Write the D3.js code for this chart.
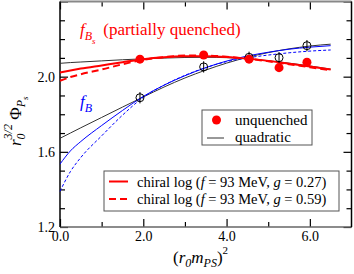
<!DOCTYPE html>
<html>
<head>
<meta charset="utf-8">
<script src="https://cdn.jsdelivr.net/npm/d3@7"></script>
<style>
  body { margin: 0; background: #fff; }
  svg text { font-family: "Liberation Serif", "DejaVu Serif", serif; }
  .tick text { font-size: 14px; fill: #000; }
</style>
</head>
<body>
<svg width="354" height="274"></svg>
<script>
// measured points, x = (r0 mPS)^2
const pointX = [1.92, 3.45, 4.54, 5.26, 5.93];
const fBsUnquenched = [2.093, 2.115, 2.093, 2.048, 2.077];
const fBPartial = [1.888, 2.052, 2.103, 2.101, 2.165];
const fBErr = [0.03, 0.03, 0.03, 0.03, 0.03];

// fit curves
const curveX    = [0, 0.25, 0.5, 1, 1.5, 2, 2.5, 3, 3.5, 4, 4.5, 5, 5.5, 6, 6.5];
const fBsLog027 = [2.022, 2.033, 2.043, 2.060, 2.077, 2.093, 2.103, 2.108, 2.109, 2.105, 2.096, 2.084, 2.069, 2.054, 2.038];
const fBsLog059 = [1.978, 1.998, 2.013, 2.038, 2.066, 2.090, 2.104, 2.112, 2.112, 2.106, 2.096, 2.082, 2.066, 2.050, 2.034];
const fBsQuad   = [2.071, 2.075, 2.078, 2.084, 2.090, 2.095, 2.099, 2.102, 2.103, 2.101, 2.095, 2.085, 2.072, 2.057, 2.040];
const fBLog027  = [1.535, 1.605, 1.655, 1.740, 1.820, 1.895, 1.955, 2.005, 2.048, 2.083, 2.110, 2.130, 2.146, 2.157, 2.165];
const fBLog059  = [1.390, 1.495, 1.570, 1.685, 1.795, 1.890, 1.955, 2.007, 2.048, 2.080, 2.100, 2.115, 2.127, 2.136, 2.142];
const fBQuad    = [1.672, 1.700, 1.728, 1.783, 1.838, 1.892, 1.945, 1.993, 2.035, 2.072, 2.103, 2.128, 2.148, 2.163, 2.173];

const xMajor = [0, 2, 4, 6];
const xMinor = [1, 3, 5];
const yMajor = [1.2, 1.6, 2.0, 2.4];
const yLabelled = [1.2, 1.6, 2.0];
const yMinor = [1.3, 1.4, 1.5, 1.7, 1.8, 1.9, 2.1, 2.2, 2.3];

const svg = d3.select('svg');
const plotL = 60, plotR = 351.5, plotT = 1.5, plotB = 227;

const x = d3.scaleLinear().domain([0, 7]).range([plotL, plotR]);
const y = d3.scaleLinear().domain([1.2, 2.4]).range([plotB, plotT]);

// ticks, all pointing inward
const axisGroup = svg.append('g');
axisGroup.append('g').attr('transform', `translate(0,${plotB})`)
    .call(d3.axisBottom(x).tickValues(xMajor).tickSize(-8).tickPadding(4).tickFormat(d3.format('.1f')));
axisGroup.append('g').attr('transform', `translate(0,${plotB})`)
    .call(d3.axisBottom(x).tickValues(xMinor).tickSize(-5).tickFormat(''));
axisGroup.append('g').attr('transform', `translate(0,${plotT})`)
    .call(d3.axisTop(x).tickValues(xMajor).tickSize(-8).tickFormat(''));
axisGroup.append('g').attr('transform', `translate(0,${plotT})`)
    .call(d3.axisTop(x).tickValues(xMinor).tickSize(-5).tickFormat(''));
axisGroup.append('g').attr('transform', `translate(${plotL},0)`)
    .call(d3.axisLeft(y).tickValues(yMajor).tickSize(-8).tickPadding(5)
        .tickFormat(d => yLabelled.includes(d) ? d3.format('.1f')(d) : ''));
axisGroup.append('g').attr('transform', `translate(${plotL},0)`)
    .call(d3.axisLeft(y).tickValues(yMinor).tickSize(-5).tickFormat(''));
axisGroup.append('g').attr('transform', `translate(${plotR},0)`)
    .call(d3.axisRight(y).tickValues(yMajor).tickSize(-8).tickFormat(''));
axisGroup.append('g').attr('transform', `translate(${plotR},0)`)
    .call(d3.axisRight(y).tickValues(yMinor).tickSize(-5).tickFormat(''));
axisGroup.selectAll('g').attr('font-family', null).attr('font-size', null);
axisGroup.selectAll('.domain').remove();
axisGroup.selectAll('.tick line').attr('stroke', '#000').attr('stroke-width', 1.2);

// frame
svg.append('line').attr('x1', plotL).attr('x2', plotR).attr('y1', plotT).attr('y2', plotT)
    .attr('stroke', '#888').attr('stroke-width', 2);
svg.append('line').attr('x1', plotL).attr('x2', plotR).attr('y1', plotB).attr('y2', plotB)
    .attr('stroke', '#666').attr('stroke-width', 1.5);
svg.append('line').attr('x1', plotL).attr('x2', plotL).attr('y1', plotT).attr('y2', plotB)
    .attr('stroke', '#000').attr('stroke-width', 1.5);
svg.append('line').attr('x1', plotR).attr('x2', plotR).attr('y1', plotT).attr('y2', plotB)
    .attr('stroke', '#000').attr('stroke-width', 1.5);

// curves
const line = d3.line()
    .x(d => x(d[0]))
    .y(d => y(d[1]))
    .curve(d3.curveMonotoneX);
const pairs = vals => curveX.map((c, i) => [c, vals[i]]);

const curves = [
    {vals: fBQuad, color: '#333', width: 1, dash: null},
    {vals: fBsQuad, color: '#333', width: 1, dash: null},
    {vals: fBLog027, color: '#0000ff', width: 1, dash: null},
    {vals: fBLog059, color: '#0000ff', width: 1, dash: '3,2'},
    {vals: fBsLog027, color: '#ff0000', width: 2, dash: null},
    {vals: fBsLog059, color: '#ff0000', width: 2, dash: '7,4'}
];
svg.append('g').selectAll('path').data(curves)
    .enter().append('path')
    .attr('d', d => line(pairs(d.vals)))
    .attr('fill', 'none')
    .attr('stroke', d => d.color)
    .attr('stroke-width', d => d.width)
    .attr('stroke-dasharray', d => d.dash);

// f_B open circles with error bars
const openPts = pointX.map((px, i) => ({x: px, y: fBPartial[i], e: fBErr[i]}));
const og = svg.append('g').selectAll('g').data(openPts).enter().append('g');
og.append('line')
    .attr('x1', d => x(d.x)).attr('x2', d => x(d.x))
    .attr('y1', d => y(d.y + d.e)).attr('y2', d => y(d.y - d.e))
    .attr('stroke', '#000').attr('stroke-width', 1);
og.append('circle')
    .attr('cx', d => x(d.x)).attr('cy', d => y(d.y)).attr('r', 4)
    .attr('fill', 'none').attr('stroke', '#000').attr('stroke-width', 1);

// f_Bs filled red
svg.append('g').selectAll('circle').data(pointX)
    .enter().append('circle')
    .attr('cx', d => x(d))
    .attr('cy', (d, i) => y(fBsUnquenched[i]))
    .attr('r', 4.5)
    .attr('fill', '#ff0000');

// labels in the plot
const lbl1 = svg.append('text').attr('x', 80).attr('y', 35).attr('fill', '#ff0000').style('font-size', '17px');
lbl1.append('tspan').text('f').style('font-style', 'italic');
lbl1.append('tspan').text('B').style('font-style', 'italic').style('font-size', '12px').attr('dy', 5);
lbl1.append('tspan').text('s').style('font-style', 'italic').style('font-size', '9px').attr('dy', 4);
lbl1.append('tspan').text(' (partially quenched)').attr('dy', -9).attr('x', 99);

const lbl2 = svg.append('text').attr('x', 80).attr('y', 107).attr('fill', '#0000ff').style('font-size', '17px');
lbl2.append('tspan').text('f').style('font-style', 'italic');
lbl2.append('tspan').text('B').style('font-style', 'italic').style('font-size', '12px').attr('dy', 5);

// legend 1
const leg1 = svg.append('g');
leg1.append('rect').attr('x', 202).attr('y', 110).attr('width', 110).attr('height', 35)
    .attr('fill', '#fff').attr('stroke', '#555').attr('stroke-width', 1);
leg1.append('circle').attr('cx', 216.5).attr('cy', 120).attr('r', 4.5).attr('fill', '#ff0000');
leg1.append('text').attr('x', 235).attr('y', 125).style('font-size', '15px').text('unquenched');
leg1.append('line').attr('x1', 207).attr('x2', 224).attr('y1', 138).attr('y2', 138)
    .attr('stroke', '#333').attr('stroke-width', 1);
leg1.append('text').attr('x', 235).attr('y', 142).style('font-size', '15px').text('quadratic');

// legend 2
const leg2 = svg.append('g');
leg2.append('rect').attr('x', 104).attr('y', 171).attr('width', 235).attr('height', 40)
    .attr('fill', '#fff').attr('stroke', '#555').attr('stroke-width', 1);
const legItems = [
    {g: '0.27', dash: null, yy: 181.5},
    {g: '0.59', dash: '7,4', yy: 199}
];
legItems.forEach(it => {
    leg2.append('line').attr('x1', 109).attr('x2', 128).attr('y1', it.yy).attr('y2', it.yy)
        .attr('stroke', '#ff0000').attr('stroke-width', 2).attr('stroke-dasharray', it.dash);
    const t = leg2.append('text').attr('x', 137).attr('y', it.yy + 5).style('font-size', '14.5px');
    t.append('tspan').text('chiral log (');
    t.append('tspan').text('f').style('font-style', 'italic');
    t.append('tspan').text(' = 93 MeV, ');
    t.append('tspan').text('g').style('font-style', 'italic');
    t.append('tspan').text(' = ' + it.g + ')');
});

// axis titles
const xt = svg.append('text').attr('x', 173).attr('y', 263).style('font-size', '17px');
xt.append('tspan').text('(');
xt.append('tspan').text('r').style('font-style', 'italic');
xt.append('tspan').text('0').style('font-style', 'italic').style('font-size', '12px').attr('dy', 4);
xt.append('tspan').text('m').style('font-style', 'italic').attr('dy', -4);
xt.append('tspan').text('PS').style('font-style', 'italic').style('font-size', '12px').attr('dy', 4);
xt.append('tspan').text(')').attr('dy', -4);
xt.append('tspan').text('2').style('font-size', '11px').attr('dy', -9);

const yt = svg.append('text').attr('transform', 'translate(21,146) rotate(-90)').style('font-size', '17px');
yt.append('tspan').text('r').style('font-style', 'italic');
yt.append('tspan').text('0').style('font-style', 'italic').style('font-size', '12px').attr('dy', 4);
yt.append('tspan').text('3/2').style('font-style', 'italic').style('font-size', '12px').attr('dx', -6).attr('dy', -13);
yt.append('tspan').text(' Φ').attr('dy', 9);
yt.append('tspan').text('P').style('font-style', 'italic').style('font-size', '12px').attr('dy', 4);
yt.append('tspan').text('s').style('font-style', 'italic').style('font-size', '9px').attr('dy', 3);
</script>
</body>
</html>
